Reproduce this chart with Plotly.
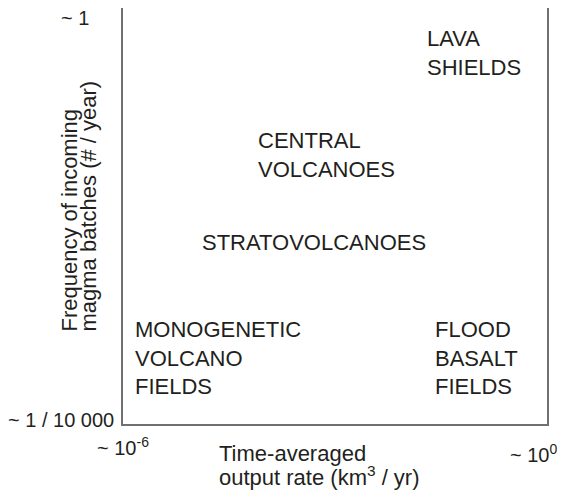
import math
import plotly.graph_objects as go

# ---- Data ----
labels = ["LAVA<br>SHIELDS", "CENTRAL<br>VOLCANOES", "STRATOVOLCANOES",
          "MONOGENETIC<br>VOLCANO<br>FIELDS", "FLOOD<br>BASALT<br>FIELDS"]
output_rate = [0.0188, 7.62e-5, 5.05e-4, 1.37e-6, 2.44e-2]      # km3 / yr
frequency = [0.369, 3.86e-2, 5.62e-3, 4.27e-4, 4.27e-4]         # batches / yr
anchors = ["left", "left", "center", "left", "left"]

x_tickvals = [1e-6, 1e0]
x_ticktext = ["~ 10<sup>-6</sup>", "~ 10<sup>0</sup>"]
y_tickvals = [1e0, 1e-4]
y_ticktext = ["~ 1", "~ 1 / 10 000"]

x_title_lines = ["Time-averaged", "output rate (km<sup>3</sup> / yr)"]
y_title_lines = ["Frequency of incoming", "magma batches (# / year)"]

FONT = "Liberation Sans, Arial, sans-serif"
TXT = "#231f20"

fig = go.Figure()

# category labels
for lab, xv, yv, anc in zip(labels, output_rate, frequency, anchors):
    fig.add_annotation(x=math.log10(xv), y=math.log10(yv), xref="x", yref="y",
                       text=lab, showarrow=False, xanchor=anc, yanchor="middle",
                       align="left", font=dict(family=FONT, size=22, color=TXT))

# x tick labels
x_shift = [0, -14]
x_yshift = [-22, -29]
for v, t, xs, ys in zip(x_tickvals, x_ticktext, x_shift, x_yshift):
    fig.add_annotation(x=math.log10(v), y=0, xref="x", yref="paper", text=t,
                       showarrow=False, xanchor="center", yanchor="middle",
                       xshift=xs, yshift=ys, font=dict(family=FONT, size=20, color=TXT))

# y tick labels
y_xshift = [-32, -7]
y_yshift = [-10, 4]
for v, t, xs, ys in zip(y_tickvals, y_ticktext, y_xshift, y_yshift):
    fig.add_annotation(x=0, y=math.log10(v), xref="paper", yref="y", text=t,
                       showarrow=False, xanchor="right", yanchor="middle",
                       xshift=xs, yshift=ys, font=dict(family=FONT, size=20, color=TXT))

# x axis title (two left-aligned lines, tight line spacing)
for i, line in enumerate(x_title_lines):
    fig.add_annotation(x=0, y=0, xref="paper", yref="paper", text=line,
                       showarrow=False, xanchor="left", yanchor="middle",
                       xshift=94, yshift=-29 - 23 * i,
                       font=dict(family=FONT, size=22, color=TXT))

# y axis title (two rotated lines, aligned at the bottom)
for i, line in enumerate(y_title_lines):
    fig.add_annotation(x=0, y=0, xref="paper", yref="paper", text=line,
                       showarrow=False, textangle=-90, xanchor="center", yanchor="bottom",
                       xshift=-54 + 19 * i, yshift=90,
                       font=dict(family=FONT, size=22, color=TXT))

# The page body adds an 8px margin, so the figure is 8px smaller than the window
fig.update_layout(
    width=557, height=482,
    margin=dict(l=115, r=18, t=0, b=66),
    paper_bgcolor="white", plot_bgcolor="white",
    font=dict(family=FONT, size=20, color=TXT),
    showlegend=False,
    xaxis=dict(type="log", range=[-6, 0], tickvals=x_tickvals, showticklabels=False,
               showgrid=False, zeroline=False, showline=True, mirror=True,
               linecolor="#707070", linewidth=1.5, ticks="", automargin=False),
    yaxis=dict(type="log", range=[-4, 0], tickvals=y_tickvals, showticklabels=False,
               showgrid=False, zeroline=False, showline=True, mirror=True,
               linecolor="#707070", linewidth=1.5, ticks="", automargin=False),
)

fig.write_html("out.html")
